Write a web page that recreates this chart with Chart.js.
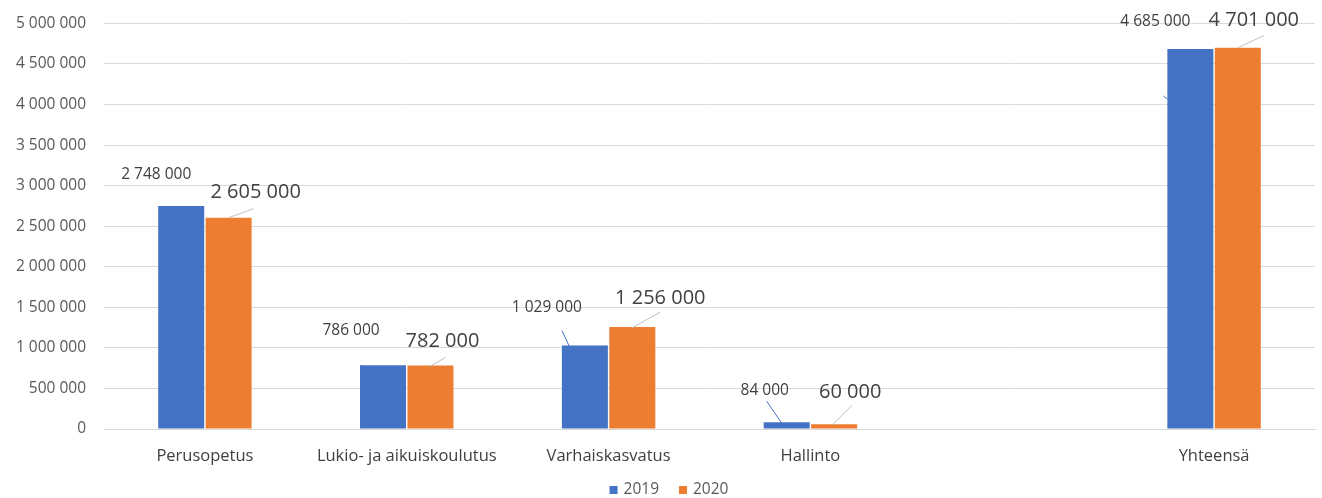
<!DOCTYPE html>
<html>
<head>
<meta charset="utf-8">
<script src="https://cdn.jsdelivr.net/npm/chart.js@4"></script>
<style>
  html, body { margin: 0; padding: 0; background: #fff; }
  #wrap { width: 1322px; height: 498px; }
</style>
</head>
<body>
<div id="wrap"><canvas id="costChart"></canvas></div>
<script>
const categories = ['Perusopetus', 'Lukio- ja aikuiskoulutus', 'Varhaiskasvatus', 'Hallinto', '', 'Yhteensä'];
const values2019 = [2748000, 786000, 1029000, 84000, null, 4685000];
const values2020 = [2605000, 782000, 1256000, 60000, null, 4701000];
const yTicks = [0, 500000, 1000000, 1500000, 2000000, 2500000, 3000000, 3500000, 4000000, 4500000, 5000000];

// label placement relative to bar top centre: [dx, dy, lineX0, lineY0, lineX1, lineY1]
const labelPos2019 = [
    [-25, -32],
    [-32, -35, -22, 0, -18, 2],
    [-38, -38, -23, -15, -15, 2],
    [-22, -32, -20, -21, -5, 1],
    null,
    [-35, -27, -27, 47, -23, 50]
];
const labelPos2020 = [
    [27, -25, 0, 0, 25, -9],
    [12, -24, -1, 1, 15, -8],
    [28, -29, -1, 1, 28, -15],
    [16, -32, 18, -19, -2, 1],
    null,
    [16, -27, 0, 0, 26, -12]
];

function fmt(v) {
    return String(v).replace(/\B(?=(\d{3})+(?!\d))/g, ' ');
}

const barLabels = {
    id: 'barLabels',
    afterDatasetsDraw(chart) {
        const ctx = chart.ctx;
        const settings = [
            { pos: labelPos2019, font: '15.5px "Open Sans"', line: '#4472C4' },
            { pos: labelPos2020, font: '20px "Open Sans"', line: '#bfbfbf' }
        ];
        chart.data.datasets.forEach((ds, di) => {
            const meta = chart.getDatasetMeta(di);
            const s = settings[di];
            meta.data.forEach((bar, i) => {
                const p = s.pos[i];
                if (!p || ds.data[i] == null) return;
                ctx.save();
                if (p.length > 3) {
                    ctx.strokeStyle = s.line;
                    ctx.lineWidth = 1;
                    ctx.beginPath();
                    ctx.moveTo(bar.x + p[2], bar.y + p[3]);
                    ctx.lineTo(bar.x + p[4], bar.y + p[5]);
                    ctx.stroke();
                }
                ctx.font = s.font;
                ctx.fillStyle = '#404040';
                ctx.textAlign = 'center';
                ctx.textBaseline = 'middle';
                ctx.fillText(fmt(ds.data[i]), bar.x + p[0], bar.y + p[1]);
                ctx.restore();
            });
        });
    },
    // legend drawn by hand so the item spacing can be wider than its height
    afterDraw(chart) {
        const ctx = chart.ctx;
        const y = 490;
        ctx.save();
        ctx.font = '15.5px "Open Sans"';
        ctx.textBaseline = 'middle';
        const items = chart.data.datasets.map(ds => ({ text: ds.label, color: ds.backgroundColor, w: 8 + 6 + ctx.measureText(ds.label).width }));
        const gap = 20;
        const total = items.reduce((a, it) => a + it.w, 0) + gap * (items.length - 1);
        let x = chart.width / 2 + 8 - total / 2;
        items.forEach(it => {
            ctx.fillStyle = it.color;
            ctx.fillRect(x, y - 4, 8, 8);
            ctx.fillStyle = '#595959';
            ctx.fillText(it.text, x + 14, y);
            x += it.w + gap;
        });
        ctx.restore();
    }
};

const ctx = document.getElementById('costChart').getContext('2d');
const costChart = new Chart(ctx, {
    type: 'bar',
    data: {
        labels: categories,
        datasets: [
            { label: '2019', data: values2019, backgroundColor: '#4472C4' },
            { label: '2020', data: values2020, backgroundColor: '#ED7D31' }
        ]
    },
    options: {
        responsive: true,
        maintainAspectRatio: false,
        animation: false,
        layout: { padding: { top: 10, right: 7, left: 0, bottom: 0 } },
        datasets: {
            bar: { barPercentage: 0.97, categoryPercentage: 0.47 }
        },
        scales: {
            x: {
                grid: { display: false },
                border: { color: '#d9d9d9' },
                ticks: { color: '#404040', font: { family: 'Open Sans', size: 16.5 }, padding: 9, maxRotation: 0, autoSkip: false },
                afterFit(scale) { scale.height = 69; }
            },
            y: {
                min: 0,
                max: 5000000,
                afterBuildTicks(scale) { scale.ticks = yTicks.map(v => ({ value: v })); },
                grid: { color: '#d9d9d9', drawTicks: false },
                border: { display: false },
                ticks: {
                    color: '#595959',
                    font: { family: 'Open Sans', size: 15.5, lineHeight: 0.7 },
                    padding: 18,
                    callback: v => fmt(v)
                },
                afterFit(scale) { scale.width = 104; }
            }
        },
        plugins: {
            legend: { display: false },
            tooltip: { enabled: false }
        }
    },
    plugins: [barLabels]
});
</script>
</body>
</html>
